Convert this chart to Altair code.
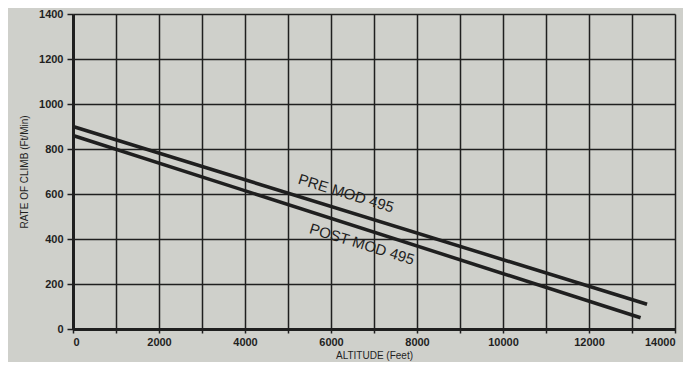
import altair as alt
import pandas as pd

# Data
pre_alt = [0, 13350]
pre_roc = [900, 110]
post_alt = [0, 13200]
post_roc = [860, 50]

label_text = ["PRE MOD 495", "POST MOD 495"]
label_alt = [6350, 6720]
label_roc = [603, 377]

x_ticks = list(range(0, 14001, 1000))
y_ticks = list(range(0, 1401, 100))

lines_df = pd.DataFrame({
    "alt": pre_alt + post_alt,
    "roc": pre_roc + post_roc,
    "series": ["PRE"] * len(pre_alt) + ["POST"] * len(post_alt),
})
labels_df = pd.DataFrame({"text": label_text, "alt": label_alt, "roc": label_roc})

FONT = "Liberation Sans"
INK = "#1f1f1f"

x_enc = alt.X(
    "alt:Q",
    scale=alt.Scale(domain=[0, 14000], nice=False),
    axis=alt.Axis(
        values=x_ticks,
        format="d",
        labelExpr="datum.value % 2000 === 0 ? datum.label : ''",
        title="ALTITUDE (Feet)",
        titleFont=FONT, titleFontSize=10, titleFontWeight="normal", titleColor=INK,
        titlePadding=3,
        labelFont=FONT, labelFontSize=11, labelFontWeight="bold", labelColor=INK,
        labelPadding=3,
        tickSize=4, tickColor=INK, tickWidth=1.5,
        domainColor=INK, domainWidth=3,
        grid=True, gridColor=INK, gridWidth=1.5, gridOpacity=1,
    ),
)
y_enc = alt.Y(
    "roc:Q",
    scale=alt.Scale(domain=[0, 1400], nice=False),
    axis=alt.Axis(
        values=y_ticks,
        format="d",
        labelExpr="datum.value % 200 === 0 ? datum.label : ''",
        title="RATE OF CLIMB (Ft/Min)",
        titleFont=FONT, titleFontSize=10, titleFontWeight="normal", titleColor=INK,
        titlePadding=9,
        labelFont=FONT, labelFontSize=11, labelFontWeight="bold", labelColor=INK,
        labelPadding=4,
        tickSize=6, tickColor=INK, tickWidth=1.5,
        domainColor=INK, domainWidth=3,
        grid=True, gridColor=INK, gridWidth=1.5,
        gridOpacity=alt.condition("datum.value % 200 === 0", alt.value(1), alt.value(0)),
    ),
)

lines = alt.Chart(lines_df).mark_line(
    color=INK, strokeWidth=3.5, strokeCap="butt"
).encode(x=x_enc, y=y_enc, detail="series:N")

labels = alt.Chart(labels_df).mark_text(
    font=FONT, fontSize=15, color=INK, angle=17, align="center", baseline="middle"
).encode(x="alt:Q", y="roc:Q", text="text:N")

chart = (
    alt.layer(lines, labels)
    .properties(
        width=602,
        height=315,
        autosize=alt.AutoSizeParams(type="none"),
        padding={"left": 65, "top": 6, "right": 8, "bottom": 33},
        background="#cfd0cb",
    )
    .configure_view(stroke=None)
)

chart.save("out.html", embed_options={"renderer": "svg", "actions": False})
